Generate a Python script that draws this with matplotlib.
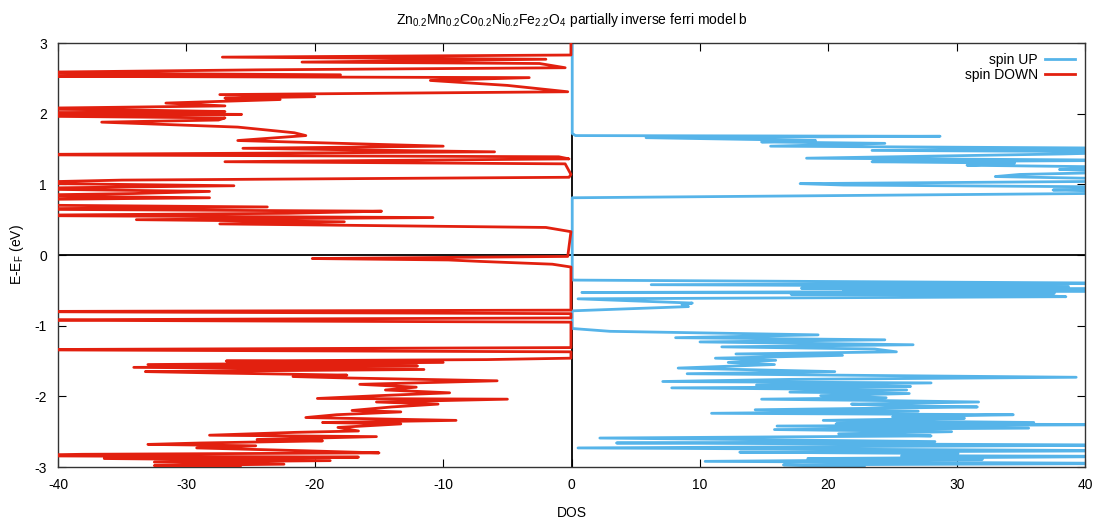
import matplotlib.pyplot as plt

plt.rcParams['font.family'] = ['Liberation Sans', 'DejaVu Sans']
plt.rcParams['mathtext.default'] = 'regular'
plt.rcParams['axes.unicode_minus'] = False

# spin UP density of states (energy in eV relative to E_F)
e_up = [3.00, 1.72, 1.69, 1.68, 1.66, 1.62, 1.60, 1.58, 1.54, 1.51, 1.48, 1.46,
        1.43, 1.37, 1.34, 1.32, 1.30, 1.27, 1.24, 1.21, 1.18, 1.14, 1.11, 1.07,
        1.04, 1.01, 0.99, 0.96, 0.92, 0.89, 0.87, 0.81,
        -0.33, -0.355, -0.40, -0.42, -0.445, -0.47, -0.48, -0.495, -0.51, -0.53,
        -0.54, -0.556, -0.566, -0.59, -0.62, -0.68, -0.70, -0.73, -0.79, -1.04,
        -1.08, -1.13, -1.17, -1.20, -1.23, -1.27, -1.30, -1.33, -1.37, -1.40,
        -1.42, -1.46, -1.49, -1.52, -1.55, -1.60, -1.65, -1.68, -1.70, -1.73,
        -1.76, -1.79, -1.81, -1.84, -1.86, -1.88, -1.91, -1.94, -1.96, -1.99,
        -2.02, -2.04, -2.06, -2.08, -2.11, -2.13, -2.15, -2.19, -2.21, -2.24,
        -2.26, -2.29, -2.31, -2.34, -2.37, -2.39, -2.40, -2.42, -2.45, -2.47,
        -2.50, -2.53, -2.56, -2.59, -2.64, -2.66, -2.69, -2.73, -2.77, -2.79,
        -2.81, -2.84, -2.85, -2.88, -2.89, -2.92, -2.95, -2.97, -3.00]
dos_up = [0.05, 0.05, 0.3, 28.7, 5.8, 19.0, 14.8, 24.4, 15.5, 45.0, 23.4, 45.0,
          38.3, 18.3, 45.0, 23.4, 34.5, 30.8, 45.0, 38.0, 45.0, 34.9, 33.0, 45.0,
          40.0, 17.8, 21.2, 45.0, 37.5, 45.0, 40.0, 0.05,
          0.05, 0.1, 45.0, 6.2, 38.7, 17.9, 45.0, 21.2, 45.0, 0.8,
          37.6, 17.1, 35.5, 38.5, 0.5, 9.4, 8.6, 9.1, 0.05, 0.05,
          3.0, 19.2, 8.1, 24.4, 10.0, 26.6, 11.7, 23.6, 25.3, 12.8,
          21.1, 11.2, 15.9, 12.2, 15.8, 8.3, 20.5, 9.0, 20.6, 39.3,
          17.0, 7.1, 28.0, 14.4, 26.4, 7.8, 26.1, 17.0, 26.3, 19.4,
          24.5, 14.8, 24.3, 31.7, 21.8, 24.8, 31.6, 14.3, 27.0, 10.9,
          34.4, 25.0, 30.6, 19.6, 36.0, 20.6, 45.0, 16.0, 35.6, 15.8,
          29.6, 20.8, 28.0, 2.2, 28.3, 3.5, 45.0, 0.5, 45.0, 13.1,
          30.1, 25.7, 45.0, 18.4, 32.0, 10.4, 45.0, 16.5, 22.8]

# spin DOWN density of states (plotted as negative values)
e_down = [3.00, 2.83, 2.80, 2.77, 2.73, 2.71, 2.65, 2.62, 2.58, 2.55, 2.53, 2.51,
          2.47, 2.40, 2.31, 2.27, 2.24, 2.22, 2.20, 2.15, 2.11, 2.09, 2.07, 2.05,
          2.03, 2.01, 1.99, 1.97, 1.94, 1.91, 1.88, 1.85, 1.81, 1.73, 1.69, 1.62,
          1.54, 1.51, 1.46, 1.42, 1.39, 1.36, 1.32, 1.29, 1.14, 1.10, 1.06, 1.02,
          0.98, 0.94, 0.90, 0.87, 0.84, 0.81, 0.78, 0.71, 0.68, 0.65, 0.62, 0.59,
          0.56, 0.53, 0.50, 0.47, 0.44, 0.39, 0.33,
          -0.02, -0.05, -0.07, -0.09, -0.13, -0.17, -0.78, -0.80, -0.83, -0.89,
          -0.92, -0.95, -1.31, -1.34, -1.37, -1.46, -1.48, -1.50, -1.52, -1.55,
          -1.57, -1.59, -1.62, -1.65, -1.67, -1.70, -1.72, -1.74, -1.78, -1.83,
          -1.87, -1.91, -1.95, -1.99, -2.03, -2.04, -2.08, -2.11, -2.15, -2.20,
          -2.22, -2.26, -2.30, -2.34, -2.37, -2.39, -2.44, -2.49, -2.51, -2.55,
          -2.57, -2.61, -2.63, -2.66, -2.68, -2.70, -2.73, -2.77, -2.80, -2.82,
          -2.84, -2.86, -2.88, -2.91, -2.93, -2.96, -2.98, -3.00]
dos_down = [-0.05, -0.05, -27.2, -2.0, -21.0, -2.5, -0.5, -24.5, -45.0, -18.0, -45.0, -3.3,
            -11.0, -5.0, -0.3, -27.4, -20.0, -27.0, -22.7, -31.6, -27.0, -35.6, -45.0, -33.5,
            -27.0, -45.0, -25.7, -45.0, -27.0, -27.5, -36.6, -32.0, -26.0, -21.6, -20.7, -26.0,
            -10.0, -25.6, -6.0, -45.0, -1.0, -0.2, -27.0, -0.5, -0.05, -0.2, -35.0, -45.0,
            -26.3, -45.0, -28.2, -34.1, -45.0, -28.2, -45.0, -45.0, -23.7, -45.0, -14.8, -22.1,
            -45.0, -10.8, -33.9, -17.7, -27.4, -2.0, -0.05,
            -0.3, -20.2, -9.6, -7.2, -1.5, -0.05, -0.05, -45.0, -0.05, -0.05,
            -45.0, -0.05, -0.05, -45.0, -0.05, -0.05, -6.6, -26.9, -10.0, -33.0,
            -12.0, -34.1, -11.5, -33.2, -27.5, -17.5, -21.7, -17.5, -5.8, -16.5,
            -12.1, -14.5, -9.5, -15.0, -19.8, -5.0, -15.2, -10.4, -14.0, -17.1,
            -13.3, -18.3, -20.7, -9.0, -19.4, -13.3, -18.2, -16.6, -21.6, -28.2,
            -15.2, -24.5, -19.4, -28.9, -33.0, -24.6, -29.2, -20.8, -15.0, -38.1,
            -45.0, -16.6, -36.4, -18.8, -32.5, -22.4, -32.5, -25.8]

fig = plt.figure(figsize=(10.99, 5.2), dpi=100)
ax = fig.add_axes([0.0528, 0.1019, 0.9346, 0.8154])

ax.axhline(0, color='black', lw=1.3, zorder=1)
ax.axvline(0, color='black', lw=1.3, zorder=1)

ax.plot(dos_up, e_up, color='#56b4e9', lw=2.0, label='spin UP', zorder=2)
ax.plot(dos_down, e_down, color='#e2200f', lw=2.0, label='spin DOWN', zorder=3)

ax.set_xlim(-40, 40)
ax.set_ylim(-3, 3)
ax.set_xticks(range(-40, 41, 10))
ax.set_yticks(range(-3, 4))
ax.tick_params(direction='in', length=6, top=True, right=True, labelsize=10, pad=8)
for s in ax.spines.values():
    s.set_linewidth(1.0)
    s.set_color('#333333')

ax.set_xlabel('DOS', fontsize=10, labelpad=10)
ax.set_ylabel('E-E$_F$ (eV)', fontsize=10, labelpad=6)
ax.set_title('Zn$_{0.2}$Mn$_{0.2}$Co$_{0.2}$Ni$_{0.2}$Fe$_{2.2}$O$_4$ partially inverse ferri model b',
             fontsize=10, pad=14)

ax.legend(loc='upper right', frameon=False, markerfirst=False, fontsize=10,
          handlelength=2.2, handletextpad=0.5, labelspacing=0.1,
          borderaxespad=0.3)

fig.savefig('out.png', dpi=100)
